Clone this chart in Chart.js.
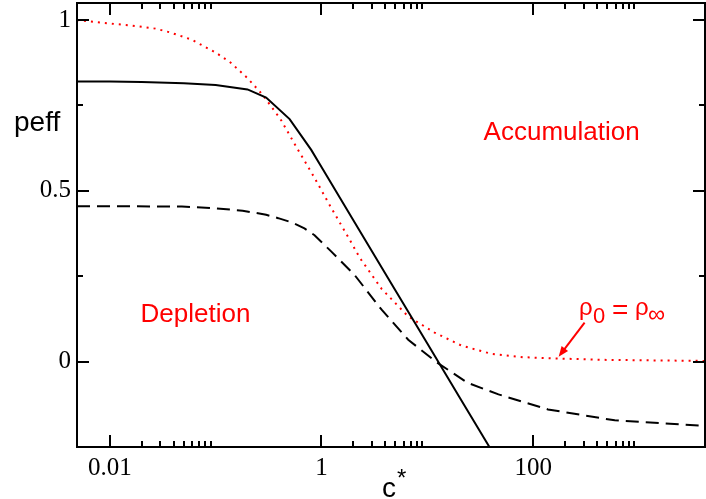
<!DOCTYPE html>
<html>
<head>
<meta charset="utf-8">
<script src="https://cdn.jsdelivr.net/npm/chart.js@4"></script>
<style>
  body { margin: 0; background: #fff; }
  canvas { display: block; }
</style>
</head>
<body>
<canvas id="grafico" width="706" height="499"></canvas>
<script>
// Datos (eje x logarítmico c*, eje y peff)
const xContinua = [0.0049, 0.01, 0.02, 0.05, 0.1, 0.2, 0.3, 0.5, 0.8, 1, 2, 5, 10, 20, 40];
const yContinua = [0.82, 0.82, 0.819, 0.815, 0.81, 0.797, 0.773, 0.71, 0.62, 0.57, 0.414, 0.208, 0.053, -0.103, -0.258];

const xDiscontinua = [0.0049, 0.01, 0.048, 0.1, 0.18, 0.3, 0.39, 0.52, 0.69, 0.86, 1.24, 2.05, 3.7, 6.6, 12, 24, 47, 138, 590, 4200];
const yDiscontinua = [0.455, 0.455, 0.454, 0.449, 0.442, 0.43, 0.42, 0.408, 0.39, 0.37, 0.322, 0.254, 0.152, 0.064, 0.0, -0.062, -0.096, -0.14, -0.172, -0.188];

const xPunteada = [0.0049, 0.01, 0.016, 0.027, 0.037, 0.059, 0.1, 0.138, 0.2, 0.28, 0.41, 0.6, 0.86, 1.19, 1.8, 2.3, 3.7, 6.6, 11.7, 21, 40, 80, 172, 500, 4200];
const yPunteada = [1.0, 0.99, 0.984, 0.975, 0.964, 0.943, 0.905, 0.876, 0.83, 0.78, 0.71, 0.62, 0.538, 0.459, 0.363, 0.304, 0.213, 0.132, 0.085, 0.047, 0.023, 0.013, 0.009, 0.005, 0.002];

// Marcas de los ejes
const xMarcasMayores = [0.01, 1, 100];
const xMarcasMenores = [0.02, 0.03, 0.04, 0.05, 0.06, 0.07, 0.08, 0.09,
                        2, 3, 4, 5, 6, 7, 8, 9,
                        200, 300, 400, 500, 600, 700, 800, 900];
const xEtiquetas = ['0.01', '1', '100'];
const yMarcasMayores = [0, 0.5, 1];
const yMarcasMenores = [0.25, 0.75];
const yEtiquetas = ['0', '0.5', '1'];

// Anotaciones (en coordenadas de datos)
const textoAcumulacion = { texto: 'Accumulation', x: 34, y: 0.649 };
const textoDeplecion = { texto: 'Depletion', x: 0.0195, y: 0.117 };
const flecha = { desdeX: 306, desdeY: 0.114, hastaX: 174, hastaY: 0.0146 };

function puntos(xs, ys) {
    return xs.map((x, i) => ({ x: x, y: ys[i] }));
}

const ROJO = '#ff0000';

// Plugin: marco, marcas hacia dentro y textos
const decoracion = {
    id: 'decoracion',
    afterDatasetsDraw(chart) {
        const ctx = chart.ctx;
        const a = chart.chartArea;
        const sx = chart.scales.x;
        const sy = chart.scales.y;
        ctx.save();
        ctx.strokeStyle = '#000';
        ctx.lineWidth = 2;

        // marcas en x (abajo y arriba)
        const marcaX = (v, largo) => {
            const px = Math.round(sx.getPixelForValue(v));
            ctx.beginPath();
            ctx.moveTo(px, a.bottom); ctx.lineTo(px, a.bottom - largo);
            ctx.moveTo(px, a.top); ctx.lineTo(px, a.top + largo);
            ctx.stroke();
        };
        xMarcasMayores.forEach(v => marcaX(v, 12));
        xMarcasMenores.forEach(v => marcaX(v, 6));

        // marcas en y (izquierda y derecha)
        const marcaY = (v, largo) => {
            const py = Math.round(sy.getPixelForValue(v));
            ctx.beginPath();
            ctx.moveTo(a.left, py); ctx.lineTo(a.left + largo, py);
            ctx.moveTo(a.right, py); ctx.lineTo(a.right - largo, py);
            ctx.stroke();
        };
        yMarcasMayores.forEach(v => marcaY(v, 12));
        yMarcasMenores.forEach(v => marcaY(v, 6));

        // marco
        ctx.strokeRect(a.left, a.top, a.right - a.left, a.bottom - a.top);

        // títulos de ejes
        ctx.fillStyle = '#000';
        ctx.textBaseline = 'alphabetic';
        ctx.textAlign = 'left';
        ctx.font = '28px "Liberation Sans", Arial, sans-serif';
        ctx.fillText('peff', 14, 131);
        ctx.fillText('c', 382, 497);
        ctx.font = '24px "Liberation Sans", Arial, sans-serif';
        ctx.fillText('*', 397, 486);

        // textos rojos
        ctx.fillStyle = ROJO;
        ctx.font = '26px "Liberation Sans", Arial, sans-serif';
        ctx.fillText(textoAcumulacion.texto, sx.getPixelForValue(textoAcumulacion.x), sy.getPixelForValue(textoAcumulacion.y));
        ctx.fillText(textoDeplecion.texto, sx.getPixelForValue(textoDeplecion.x), sy.getPixelForValue(textoDeplecion.y));

        // rho_0 = rho_inf
        ctx.font = '24px "Liberation Sans", Arial, sans-serif';
        ctx.fillText('\u03c1', 579, 315);
        ctx.font = '22px "Liberation Sans", Arial, sans-serif';
        ctx.fillText('0', 593, 323);
        ctx.font = '28px "Liberation Sans", Arial, sans-serif';
        ctx.fillText('=', 612, 319);
        ctx.font = '24px "Liberation Sans", Arial, sans-serif';
        ctx.fillText('\u03c1', 635, 315);
        ctx.fillText('\u221e', 648, 322);

        // flecha
        const x0 = sx.getPixelForValue(flecha.desdeX), y0 = sy.getPixelForValue(flecha.desdeY);
        const x1 = sx.getPixelForValue(flecha.hastaX), y1 = sy.getPixelForValue(flecha.hastaY);
        const ang = Math.atan2(y1 - y0, x1 - x0);
        ctx.strokeStyle = ROJO;
        ctx.lineWidth = 2;
        ctx.beginPath();
        ctx.moveTo(x0, y0);
        ctx.lineTo(x1 - 8 * Math.cos(ang), y1 - 8 * Math.sin(ang));
        ctx.stroke();
        ctx.beginPath();
        ctx.moveTo(x1, y1);
        ctx.lineTo(x1 - 11 * Math.cos(ang - 0.38), y1 - 11 * Math.sin(ang - 0.38));
        ctx.lineTo(x1 - 11 * Math.cos(ang + 0.38), y1 - 11 * Math.sin(ang + 0.38));
        ctx.closePath();
        ctx.fill();
        ctx.restore();
    }
};

const ctx = document.getElementById('grafico');

new Chart(ctx, {
    type: 'line',
    data: {
        datasets: [
            {
                label: 'continua',
                data: puntos(xContinua, yContinua),
                borderColor: '#000',
                borderWidth: 2,
                pointRadius: 0,
                fill: false,
                tension: 0
            },
            {
                label: 'discontinua',
                data: puntos(xDiscontinua, yDiscontinua),
                borderColor: '#000',
                borderWidth: 2,
                borderDash: [13, 7],
                pointRadius: 0,
                fill: false,
                tension: 0
            },
            {
                label: 'punteada',
                data: puntos(xPunteada, yPunteada),
                borderColor: ROJO,
                borderWidth: 2,
                borderDash: [2, 5],
                pointRadius: 0,
                fill: false,
                tension: 0
            }
        ]
    },
    options: {
        responsive: false,
        animation: false,
        devicePixelRatio: 1,
        layout: { padding: { top: 3, right: 1, left: 0, bottom: 0 } },
        scales: {
            x: {
                type: 'logarithmic',
                min: 0.0049,
                max: 4200,
                grid: { display: false, drawTicks: false },
                border: { display: false },
                afterBuildTicks: (escala) => {
                    escala.ticks = xMarcasMayores.map(v => ({ value: v }));
                },
                afterFit: (escala) => {
                    escala.height = 52;
                    escala.paddingLeft = 0;
                    escala.paddingRight = 0;
                },
                ticks: {
                    autoSkip: false,
                    maxRotation: 0,
                    padding: 6,
                    color: '#000',
                    font: { family: '"Liberation Serif", "Times New Roman", serif', size: 25 },
                    callback: function(valor, i) { return xEtiquetas[i]; }
                }
            },
            y: {
                min: -0.25,
                max: 1.05,
                grid: { display: false, drawTicks: false },
                border: { display: false },
                afterBuildTicks: (escala) => {
                    escala.ticks = yMarcasMayores.map(v => ({ value: v }));
                },
                afterFit: (escala) => {
                    escala.width = 77;
                    escala.paddingTop = 0;
                    escala.paddingBottom = 0;
                },
                ticks: {
                    padding: 6,
                    color: '#000',
                    font: { family: '"Liberation Serif", "Times New Roman", serif', size: 25 },
                    callback: function(valor, i) { return yEtiquetas[i]; }
                }
            }
        },
        plugins: {
            legend: { display: false },
            tooltip: { enabled: false }
        }
    },
    plugins: [decoracion]
});
</script>
</body>
</html>
